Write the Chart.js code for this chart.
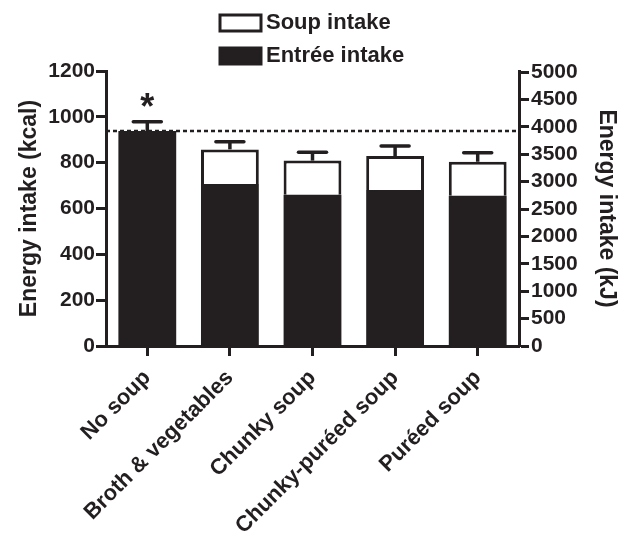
<!DOCTYPE html>
<html>
<head>
<meta charset="utf-8">
<script src="https://cdn.jsdelivr.net/npm/chart.js@4/dist/chart.umd.min.js"></script>
<style>
  html, body { margin: 0; padding: 0; background: #fff; }
  #wrap { width: 624px; height: 534px; }
</style>
</head>
<body>
<div id="wrap"><canvas id="myChart"></canvas></div>
<script>
// values (kcal)
const categories = [`No soup`, `Broth & vegetables`, `Chunky soup`, `Chunky-puréed soup`, `Puréed soup`];
const entreeIntake = [938, 707, 660, 681, 656];
const soupIntake = [0, 151, 149, 148, 148];
const errorUp = [41, 33, 36, 44, 39];
const significant = [true, false, false, false, false];
const referenceLine = 938;
const kcalTicks = [0, 200, 400, 600, 800, 1000, 1200];
const kjTicks = [0, 500, 1000, 1500, 2000, 2500, 3000, 3500, 4000, 4500, 5000];
const kjPerKcal = 4.184;

const ink = `#231f20`;
const fontFamily = `"Liberation Sans", Arial, sans-serif`;

const extras = {
  id: `extras`,
  beforeDatasetsDraw(chart) {
    // dashed reference line at the no-soup level
    const { ctx, chartArea } = chart;
    const y = chart.scales.y.getPixelForValue(referenceLine);
    ctx.save();
    ctx.strokeStyle = ink;
    ctx.lineWidth = 2.5;
    ctx.setLineDash([4, 3]);
    ctx.beginPath();
    ctx.moveTo(chartArea.left, y);
    ctx.lineTo(chartArea.right, y);
    ctx.stroke();
    ctx.restore();
  },
  afterDatasetsDraw(chart) {
    const { ctx } = chart;
    const x = chart.scales.x;
    const y = chart.scales.y;
    ctx.save();
    ctx.strokeStyle = ink;
    ctx.fillStyle = ink;
    ctx.lineWidth = 3.5;
    categories.forEach((c, i) => {
      const top = entreeIntake[i] + soupIntake[i];
      const px = x.getPixelForValue(i);
      const y0 = y.getPixelForValue(top);
      const y1 = y.getPixelForValue(top + errorUp[i]);
      ctx.lineCap = `butt`;
      ctx.beginPath();
      ctx.moveTo(px, y0);
      ctx.lineTo(px, y1);
      ctx.stroke();
      ctx.lineCap = `round`;
      ctx.beginPath();
      ctx.moveTo(px - 14, y1);
      ctx.lineTo(px + 14, y1);
      ctx.stroke();
      if (significant[i]) {
        ctx.font = `bold 36px ${fontFamily}`;
        ctx.textAlign = `center`;
        ctx.textBaseline = `alphabetic`;
        ctx.fillText(`*`, px, y1 - 3);
      }
    });
    ctx.restore();
  },
  afterDraw(chart) {
    // legend stacked in two rows above the plot
    const { ctx } = chart;
    const sets = chart.data.datasets;
    const rows = [sets[1], sets[0]];
    ctx.save();
    ctx.font = `bold 22px ${fontFamily}`;
    ctx.textAlign = `left`;
    ctx.textBaseline = `middle`;
    rows.forEach((ds, r) => {
      const bx = 220;
      const by = 15 + r * 33;
      ctx.fillStyle = ds.backgroundColor;
      ctx.fillRect(bx, by, 41, 16);
      ctx.strokeStyle = ink;
      ctx.lineWidth = 3;
      ctx.strokeRect(bx, by, 41, 16);
      ctx.fillStyle = ink;
      ctx.fillText(ds.label, 266, by + 8);
    });
    ctx.restore();
  }
};

const axisGrid = {
  drawOnChartArea: false,
  drawTicks: true,
  tickLength: 10,
  tickWidth: 3,
  tickColor: ink,
  offset: false
};

const plain = (v) => String(v);

const myChart = document.querySelector(`#myChart`).getContext(`2d`);
const chart = new Chart(myChart, {
  type: `bar`,
  data: {
    labels: categories,
    datasets: [
      {
        label: `Entrée intake`,
        data: entreeIntake,
        backgroundColor: ink,
        borderWidth: 0,
        barPercentage: 0.7,
        categoryPercentage: 1
      },
      {
        label: `Soup intake`,
        data: soupIntake,
        backgroundColor: `#ffffff`,
        borderColor: ink,
        borderWidth: 3,
        borderSkipped: `start`,
        barPercentage: 0.7,
        categoryPercentage: 1
      }
    ]
  },
  options: {
    responsive: true,
    maintainAspectRatio: false,
    animation: false,
    devicePixelRatio: 1,
    layout: { padding: { top: 71, left: 0, right: 0, bottom: 0 } },
    plugins: {
      legend: { display: false },
      tooltip: { enabled: false }
    },
    scales: {
      x: {
        stacked: true,
        grid: axisGrid,
        border: { display: true, width: 3, color: ink },
        ticks: {
          color: ink,
          font: { family: fontFamily, size: 22, weight: `bold` },
          minRotation: 45,
          maxRotation: 45,
          autoSkip: false,
          padding: 9
        },
        afterFit: (s) => { s.height = 188; }
      },
      y: {
        stacked: true,
        position: `left`,
        min: 0,
        max: kcalTicks[kcalTicks.length - 1],
        grid: axisGrid,
        border: { display: true, width: 3, color: ink },
        afterBuildTicks: (s) => { s.ticks = kcalTicks.map((v) => ({ value: v })); },
        ticks: {
          color: ink,
          padding: 1,
          autoSkip: false,
          callback: plain,
          font: { family: fontFamily, size: 21, weight: `bold` }
        },
        title: {
          display: true,
          text: `Energy intake (kcal)`,
          color: ink,
          font: { family: fontFamily, size: 23, weight: `bold` },
          padding: { top: 16, bottom: 0 }
        },
        afterFit: (s) => { s.width = 106; }
      },
      y2: {
        position: `right`,
        min: 0,
        max: kcalTicks[kcalTicks.length - 1] * kjPerKcal,
        grid: axisGrid,
        border: { display: true, width: 3, color: ink },
        afterBuildTicks: (s) => { s.ticks = kjTicks.map((v) => ({ value: v })); },
        ticks: {
          color: ink,
          padding: 2,
          autoSkip: false,
          callback: plain,
          font: { family: fontFamily, size: 21, weight: `bold` }
        },
        title: {
          display: true,
          text: `Energy intake (kJ)`,
          color: ink,
          font: { family: fontFamily, size: 23, weight: `bold` },
          padding: { top: 4, bottom: 0 }
        },
        afterFit: (s) => { s.width = 105; }
      }
    }
  },
  plugins: [extras]
});
</script>
</body>
</html>
